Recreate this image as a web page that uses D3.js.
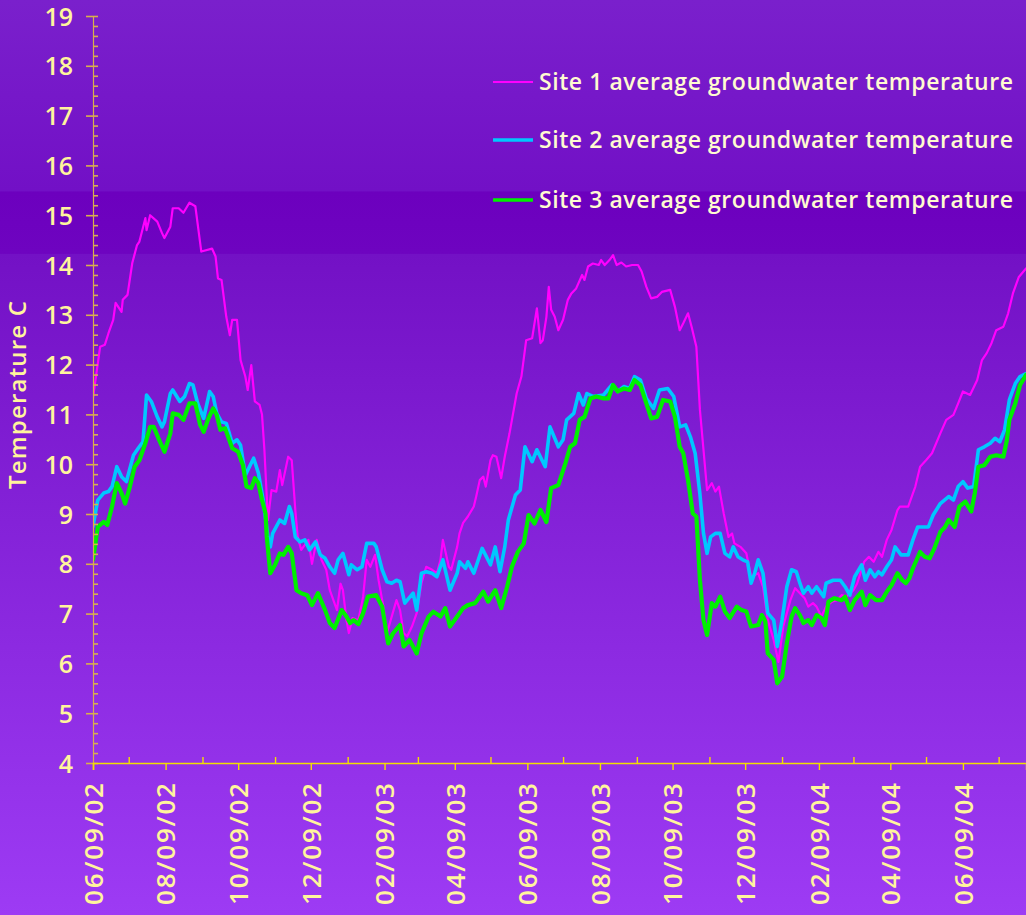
<!DOCTYPE html>
<html>
<head>
<meta charset="utf-8">
<script src="https://cdn.jsdelivr.net/npm/d3@7"></script>
<style>
  html, body { margin: 0; padding: 0; background: #7a1ec9; }
  svg { display: block; }
  text { font-family: "Open Sans", "DejaVu Sans", sans-serif; font-weight: 600; }
</style>
</head>
<body>
<svg id="chart" width="1026" height="915"></svg>
<script>
// Logger start date; readings are keyed by days elapsed since this date.
const startDate = new Date(2002, 5, 9);
const lastDay = 784;

const seriesNames = [
  "Site 1 average groundwater temperature",
  "Site 2 average groundwater temperature",
  "Site 3 average groundwater temperature"
];

// [days since 9 June 2002, temperature °C]
const site1 = [
  [0,11.33],[6,12.36],[10,12.4],[13,12.63],[17,12.9],[19,13.24],[24,13.06],[25,13.3],[29,13.4],
  [33,14.04],[37,14.4],[39,14.47],[44,14.94],[45,14.7],[48,15.0],[54,14.87],[58,14.64],[60,14.54],
  [65,14.77],[67,15.14],[72,15.14],[76,15.05],[81,15.25],[86,15.18],[91,14.27],[100,14.33],
  [103,14.17],[105,13.73],[108,13.7],[112,12.96],[115,12.59],[117,12.9],[121,12.9],[124,12.09],
  [128,11.76],[130,11.49],[133,11.99],[136,11.26],[140,11.19],[142,11.0],[144,10.3],[147,8.88],
  [150,9.48],[154,9.45],[157,9.88],[159,9.58],[164,10.15],[167,10.08],[170,9.08],[172,8.54],
  [175,8.28],[181,8.48],[184,8.0],[188,8.48],[192,8.08],[196,7.88],[199,7.47],[205,7.07],
  [208,7.6],[210,7.47],[213,6.87],[215,6.61],[218,6.91],[223,6.87],[227,7.34],[230,8.08],
  [233,7.94],[237,8.18],[240,7.67],[244,7.14],[247,6.61],[251,6.94],[255,7.27],[258,7.07],
  [261,6.61],[264,6.54],[268,6.74],[272,7.01],[276,7.61],[280,7.94],[285,7.88],[289,7.81],
  [292,8.08],[294,8.48],[299,7.94],[301,7.88],[306,8.34],[308,8.61],[311,8.82],[315,8.95],
  [320,9.15],[322,9.35],[325,9.68],[328,9.75],[330,9.55],[334,10.08],[336,10.18],[339,10.15],
  [343,9.72],[346,10.15],[350,10.62],[356,11.42],[360,11.76],[364,12.49],[369,12.53],[373,13.13],
  [376,12.43],[378,12.49],[381,12.96],[383,13.56],[385,13.1],[388,12.96],[391,12.69],[395,12.9],
  [399,13.3],[402,13.43],[406,13.53],[411,13.8],[413,13.7],[416,13.97],[420,14.03],[425,14.0],
  [427,14.1],[430,14.0],[434,14.1],[437,14.2],[440,14.0],[444,14.05],[448,13.97],[453,14.0],
  [458,14.0],[461,13.87],[465,13.56],[469,13.33],[474,13.36],[478,13.46],[485,13.5],[489,13.16],
  [493,12.69],[496,12.83],[500,13.03],[503,12.76],[507,12.36],[510,11.09],[513,10.29],[516,9.48],
  [520,9.62],[523,9.45],[526,9.55],[530,9.01],[534,8.54],[537,8.61],[539,8.41],[544,8.34],
  [549,8.21],[553,7.74],[559,7.81],[563,7.54],[567,6.87],[572,6.47],[576,6.03],[580,6.74],
  [586,7.27],[590,7.51],[594,7.41],[598,7.31],[601,7.14],[605,7.21],[608,7.14],[612,6.94],
  [616,7.14],[621,7.24],[625,7.27],[629,7.37],[633,7.34],[639,7.47],[642,7.6],[648,8.04],
  [652,8.14],[656,8.04],[660,8.24],[663,8.14],[667,8.48],[671,8.68],[676,9.08],[678,9.15],
  [685,9.15],[688,9.35],[691,9.55],[695,9.95],[700,10.08],[705,10.22],[712,10.62],[717,10.89],
  [723,10.99],[727,11.22],[731,11.46],[737,11.39],[743,11.69],[747,12.09],[751,12.23],[755,12.43],
  [759,12.69],[765,12.76],[769,13.03],[773,13.43],[778,13.76],[784,13.93]
];

const site2 = [
  [0,8.75],[4,9.28],[9,9.42],[13,9.45],[16,9.55],[20,9.95],[24,9.75],[28,9.65],[34,10.18],
  [38,10.32],[42,10.45],[45,11.39],[49,11.26],[54,10.95],[58,10.75],[60,10.85],[65,11.42],
  [67,11.49],[73,11.26],[77,11.36],[81,11.62],[84,11.59],[88,11.22],[93,10.92],[98,11.46],
  [101,11.36],[104,11.02],[108,10.85],[112,10.82],[117,10.42],[121,10.49],[124,10.38],[128,9.78],
  [130,9.88],[135,10.12],[139,9.82],[143,9.28],[147,8.54],[149,8.34],[151,8.61],[157,8.88],
  [161,8.81],[165,9.15],[167,9.01],[170,8.54],[174,8.44],[178,8.48],[182,8.28],[187,8.44],
  [191,8.18],[195,8.11],[199,7.94],[203,7.81],[206,8.08],[210,8.21],[215,7.78],[217,7.98],
  [222,7.88],[226,7.94],[230,8.41],[236,8.41],[238,8.34],[243,7.88],[247,7.64],[251,7.61],
  [255,7.67],[258,7.64],[262,7.21],[269,7.41],[272,7.07],[276,7.81],[280,7.84],[285,7.81],
  [289,7.74],[294,8.08],[300,7.47],[306,7.81],[308,8.04],[313,7.91],[315,8.04],[320,7.81],
  [327,8.31],[334,7.98],[338,8.34],[342,7.84],[346,8.34],[349,8.88],[355,9.38],[359,9.48],
  [363,10.35],[369,10.05],[373,10.29],[380,9.95],[384,10.75],[391,10.35],[395,10.49],[398,10.89],
  [404,11.02],[408,11.42],[412,11.19],[415,11.42],[420,11.36],[429,11.39],[436,11.59],[441,11.46],
  [446,11.56],[451,11.52],[455,11.76],[460,11.69],[465,11.32],[471,11.12],[476,11.49],[483,11.52],
  [488,11.36],[493,10.75],[498,10.79],[502,10.55],[506,10.22],[510,9.4],[513,8.61],[516,8.21],
  [519,8.54],[523,8.61],[527,8.61],[531,8.21],[535,8.14],[538,8.34],[542,8.14],[546,8.08],
  [550,8.04],[553,7.61],[556,7.81],[559,8.08],[563,7.81],[567,7.01],[572,6.87],[575,6.34],
  [579,6.87],[583,7.54],[587,7.88],[591,7.84],[594,7.61],[597,7.41],[601,7.54],[604,7.41],
  [608,7.54],[614,7.34],[616,7.61],[622,7.67],[628,7.67],[632,7.54],[636,7.37],[640,7.74],
  [646,7.98],[649,7.67],[653,7.88],[657,7.74],[660,7.84],[663,7.78],[667,7.94],[671,8.08],
  [674,8.34],[679,8.18],[685,8.18],[689,8.48],[693,8.74],[702,8.74],[706,8.98],[712,9.21],
  [719,9.35],[723,9.28],[727,9.55],[731,9.65],[735,9.52],[740,9.55],[744,10.29],[749,10.35],
  [754,10.42],[758,10.52],[762,10.45],[766,10.69],[770,11.29],[775,11.62],[779,11.76],[784,11.82]
];

const site3 = [
  [0,8.08],[4,8.74],[9,8.84],[12,8.78],[16,9.15],[20,9.62],[24,9.42],[27,9.21],[31,9.55],
  [35,9.95],[39,10.08],[44,10.42],[48,10.75],[51,10.75],[55,10.52],[60,10.25],[65,10.62],
  [67,11.02],[72,10.99],[76,10.89],[81,11.22],[86,11.22],[90,10.79],[93,10.65],[97,10.92],
  [101,11.12],[104,10.99],[107,10.69],[111,10.72],[117,10.32],[122,10.25],[126,9.98],[129,9.55],
  [133,9.52],[136,9.72],[139,9.62],[142,9.28],[145,9.01],[146,8.54],[149,7.81],[153,7.98],
  [157,8.21],[160,8.18],[164,8.34],[167,8.21],[171,7.47],[175,7.41],[180,7.37],[184,7.17],
  [189,7.41],[195,7.07],[199,6.81],[203,6.71],[209,7.07],[213,6.94],[216,6.81],[219,6.87],
  [223,6.79],[227,7.01],[231,7.34],[238,7.37],[243,7.14],[248,6.4],[252,6.6],[258,6.77],
  [261,6.34],[266,6.47],[272,6.2],[276,6.6],[282,6.94],[286,7.04],[292,6.94],[296,7.11],
  [300,6.74],[306,6.94],[311,7.11],[315,7.17],[321,7.21],[328,7.44],[332,7.24],[338,7.47],
  [343,7.11],[348,7.54],[352,7.94],[357,8.24],[362,8.41],[366,8.98],[371,8.81],[376,9.08],
  [381,8.84],[385,9.52],[391,9.58],[397,10.02],[401,10.35],[405,10.42],[409,10.89],[413,10.95],
  [418,11.32],[423,11.36],[429,11.32],[433,11.32],[437,11.59],[441,11.46],[446,11.52],[451,11.49],
  [455,11.69],[460,11.59],[464,11.29],[469,10.92],[474,10.95],[479,11.29],[485,11.26],[489,10.95],
  [493,10.35],[496,10.22],[500,9.68],[504,9.01],[507,8.95],[510,7.67],[513,6.87],[516,6.57],
  [520,7.21],[523,7.14],[527,7.34],[531,7.04],[535,6.91],[541,7.14],[545,7.07],[549,7.04],
  [553,6.74],[559,6.77],[562,6.97],[565,6.84],[567,6.2],[572,6.07],[575,5.6],[579,5.73],
  [583,6.4],[587,6.94],[590,7.11],[594,6.97],[597,6.81],[601,6.87],[604,6.77],[608,6.97],
  [612,6.91],[615,6.77],[618,7.24],[623,7.31],[629,7.27],[632,7.34],[636,7.07],[640,7.27],
  [646,7.44],[649,7.17],[653,7.37],[658,7.27],[663,7.27],[667,7.44],[671,7.57],[676,7.81],
  [680,7.67],[683,7.61],[686,7.71],[689,7.91],[695,8.24],[699,8.14],[703,8.11],[707,8.31],
  [712,8.64],[716,8.74],[719,8.88],[724,8.74],[728,9.15],[733,9.25],[738,9.05],[741,9.42],
  [744,9.95],[749,9.98],[754,10.15],[759,10.18],[765,10.15],[768,10.49],[770,10.89],[775,11.22],
  [779,11.59],[784,11.79]
];

const yMin = 4, yMax = 19;
const yAxisTitle = "Temperature C";

// ---- layout & styling ----
const W = 1026, H = 915;
const plot = { left: 93, right: 1026, top: 16, bottom: 763 };
const colors = ["#ff00ff", "#00c8ff", "#00f000"];
const widths = [2.2, 3.6, 4.2];
const axisYellow = "#f2e000";
const axisTan = "#d8b04c";
const labelColor = "#fff59c";
const legendColor = "#fffbd0";

const svg = d3.select("#chart");
const defs = svg.append("defs");

// background: vertical purple gradient with a darker band near the top
const bg = defs.append("linearGradient")
  .attr("id", "bg").attr("x1", 0).attr("y1", 0).attr("x2", 0).attr("y2", 1);
[
  [0, "rgb(122,32,204)"],
  [0.209, "rgb(114,16,198)"],
  [0.2095, "rgb(108,0,190)"],
  [0.277, "rgb(110,4,192)"],
  [0.2775, "rgb(115,17,197)"],
  [1, "rgb(157,59,244)"]
].forEach(([o, c]) => bg.append("stop").attr("offset", o).attr("stop-color", c));
svg.append("rect").attr("width", W).attr("height", H).attr("fill", "url(#bg)");

const x = d3.scaleTime()
  .domain([startDate, d3.timeDay.offset(startDate, lastDay)])
  .range([plot.left, plot.right]);
const y = d3.scaleLinear().domain([yMin, yMax]).range([plot.bottom, plot.top]);

// monthly ticks on the 9th; every second month is labelled
const months = d3.range(0, 26).map(i => new Date(2002, 5 + i, 9))
  .filter(d => d <= x.domain()[1]);
const majorMonths = months.filter((d, i) => i % 2 === 0);
const minorMonths = months.filter((d, i) => i % 2 === 1);
const fmt = d3.timeFormat("%m/%d/%y");

// ---- series ----
const line = d3.line()
  .x(d => x(d3.timeDay.offset(startDate, d[0])))
  .y(d => y(d[1]));

defs.append("clipPath").attr("id", "plotClip")
  .append("rect").attr("x", plot.left).attr("y", 0)
  .attr("width", plot.right - plot.left).attr("height", plot.bottom);

const seriesG = svg.append("g").attr("clip-path", "url(#plotClip)");
[site1, site2, site3].forEach((data, i) => {
  seriesG.append("path")
    .datum(data)
    .attr("d", line)
    .attr("fill", "none")
    .attr("stroke", colors[i])
    .attr("stroke-width", widths[i])
    .attr("stroke-linejoin", "round")
    .attr("stroke-linecap", "round");
});

// ---- y axis ----
const yAxisG = svg.append("g").attr("transform", `translate(${plot.left},0)`);
yAxisG.call(d3.axisLeft(y).tickValues(d3.range(yMin, yMax + 1)).tickSize(7).tickPadding(13));
yAxisG.select(".domain").attr("stroke", axisTan).attr("stroke-width", 1.2);
yAxisG.selectAll(".tick line").attr("stroke", axisTan).attr("stroke-width", 1.6);
yAxisG.selectAll(".tick text")
  .attr("fill", labelColor)
  .style("font-size", "25px")
  .attr("dy", "0.36em");

// right half of the major ticks and the minor ticks
const yMinor = d3.range(yMin * 5, yMax * 5 + 1).map(v => v / 5);
const yRight = svg.append("g").attr("transform", `translate(${plot.left},0)`);
yRight.call(d3.axisRight(y).tickValues(yMinor).tickSize(5).tickFormat(""));
yRight.select(".domain").remove();
yRight.selectAll(".tick line").attr("stroke", axisTan).attr("stroke-width", 1.6);

// ---- x axis ----
const xAxisG = svg.append("g").attr("transform", `translate(0,${plot.bottom})`);
xAxisG.call(d3.axisBottom(x).tickValues(majorMonths).tickSize(7).tickFormat(fmt));
xAxisG.select(".domain").attr("stroke", axisYellow).attr("stroke-width", 1.5);
xAxisG.selectAll(".tick line").attr("stroke", axisYellow).attr("stroke-width", 1.4);
xAxisG.selectAll(".tick text")
  .attr("fill", labelColor)
  .style("font-size", "26px")
  .attr("text-anchor", "end")
  .attr("transform", "rotate(-90)")
  .attr("x", -20)
  .attr("y", 0)
  .attr("dy", "0.36em")
  .attr("textLength", 122)
  .attr("lengthAdjust", "spacing");

const xMinorG = svg.append("g").attr("transform", `translate(0,${plot.bottom})`);
xMinorG.call(d3.axisTop(x).tickValues(minorMonths).tickSize(6).tickFormat(""));
xMinorG.select(".domain").remove();
xMinorG.selectAll(".tick line").attr("stroke", axisYellow).attr("stroke-width", 1.4);

// ---- axis title ----
svg.append("text")
  .attr("transform", `translate(26,${(300 + 490) / 2}) rotate(-90)`)
  .attr("text-anchor", "middle")
  .attr("fill", labelColor)
  .style("font-size", "24px")
  .attr("textLength", 188)
  .attr("lengthAdjust", "spacing")
  .text(yAxisTitle);

// ---- legend ----
const legendRows = [82, 140, 200];
const legend = svg.append("g");
seriesNames.forEach((name, i) => {
  const ly = legendRows[i];
  legend.append("line")
    .attr("x1", 493).attr("x2", 533).attr("y1", ly).attr("y2", ly)
    .attr("stroke", colors[i]).attr("stroke-width", i === 0 ? 2 : 3.5);
  legend.append("text")
    .attr("x", 539).attr("y", ly).attr("dy", "0.36em")
    .attr("fill", legendColor)
    .style("font-size", "23px")
    .attr("textLength", 474)
    .attr("lengthAdjust", "spacing")
    .text(name);
});
</script>
</body>
</html>
